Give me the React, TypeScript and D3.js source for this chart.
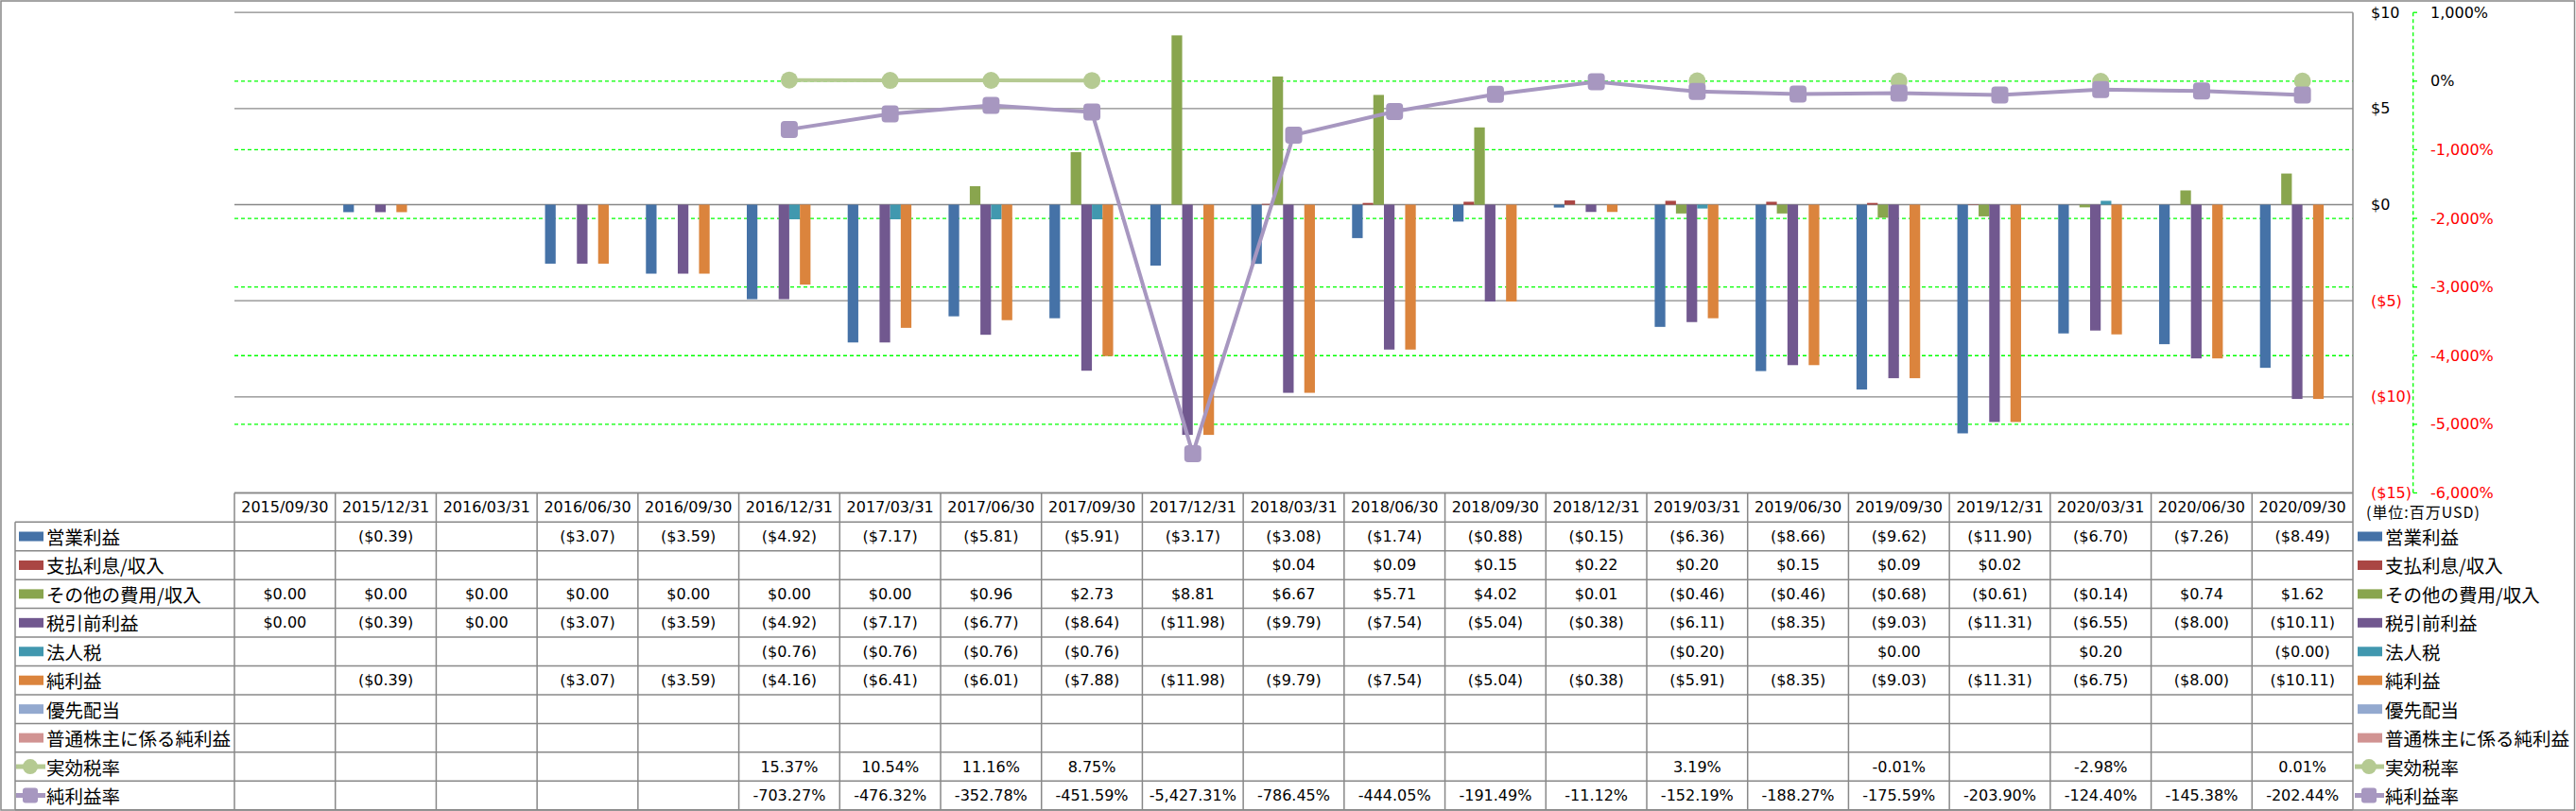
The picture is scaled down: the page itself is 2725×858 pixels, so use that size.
import React from "react";
import * as d3 from "d3";

const categories = [
  "2015/09/30", "2015/12/31", "2016/03/31", "2016/06/30", "2016/09/30", "2016/12/31",
  "2017/03/31", "2017/06/30", "2017/09/30", "2017/12/31", "2018/03/31", "2018/06/30",
  "2018/09/30", "2018/12/31", "2019/03/31", "2019/06/30", "2019/09/30", "2019/12/31",
  "2020/03/31", "2020/06/30", "2020/09/30",
];

const N = null;
const operatingIncome = [N, -0.39, N, -3.07, -3.59, -4.92, -7.17, -5.81, -5.91, -3.17, -3.08, -1.74, -0.88, -0.15, -6.36, -8.66, -9.62, -11.9, -6.7, -7.26, -8.49];
const interestExpense = [N, N, N, N, N, N, N, N, N, N, 0.04, 0.09, 0.15, 0.22, 0.2, 0.15, 0.09, 0.02, N, N, N];
const otherExpense = [0, 0, 0, 0, 0, 0, 0, 0.96, 2.73, 8.81, 6.67, 5.71, 4.02, 0.01, -0.46, -0.46, -0.68, -0.61, -0.14, 0.74, 1.62];
const pretaxIncome = [0, -0.39, 0, -3.07, -3.59, -4.92, -7.17, -6.77, -8.64, -11.98, -9.79, -7.54, -5.04, -0.38, -6.11, -8.35, -9.03, -11.31, -6.55, -8.0, -10.11];
const incomeTax = [N, N, N, N, N, -0.76, -0.76, -0.76, -0.76, N, N, N, N, N, -0.2, N, 0, N, 0.2, N, -0.001];
const netIncome = [N, -0.39, N, -3.07, -3.59, -4.16, -6.41, -6.01, -7.88, -11.98, -9.79, -7.54, -5.04, -0.38, -5.91, -8.35, -9.03, -11.31, -6.75, -8.0, -10.11];
const preferredDividends = categories.map(() => N);
const commonNetIncome = categories.map(() => N);
const effectiveTaxRate = [N, N, N, N, N, 15.37, 10.54, 11.16, 8.75, N, N, N, N, N, 3.19, N, -0.01, N, -2.98, N, 0.01];
const netMargin = [N, N, N, N, N, -703.27, -476.32, -352.78, -451.59, -5427.31, -786.45, -444.05, -191.49, -11.12, -152.19, -188.27, -175.59, -203.9, -124.4, -145.38, -202.44];

const barSeriesNames = ["営業利益", "支払利息/収入", "その他の費用/収入", "税引前利益", "法人税", "純利益", "優先配当", "普通株主に係る純利益"];
const barSeriesValues = [operatingIncome, interestExpense, otherExpense, pretaxIncome, incomeTax, netIncome, preferredDividends, commonNetIncome];
const lineSeriesNames = ["実効税率", "純利益率"];
const lineSeriesValues = [effectiveTaxRate, netMargin];

const dollarTicks = [10, 5, 0, -5, -10, -15];
const pctTicks = [1000, 0, -1000, -2000, -3000, -4000, -5000, -6000];
const unitLabel = "(単位:百万USD)";

const barColors = ["#4572A7", "#AA4643", "#89A54E", "#71588F", "#4198AF", "#DB843D", "#93A9CF", "#D19392"];
const lineColors = ["#B5CA92", "#A797C0"];

const W = 2725;
const H = 858;
const plotLeft = 248;
const plotRight = 2489;
const plotTop = 13.2;
const plotBottom = 521.5;
const headerH = 30.8;
const rowH = 30.44;
const numFont = "'DejaVu Sans', 'Noto Sans CJK JP', sans-serif";
const jpFont = "'Noto Sans CJK JP', 'DejaVu Sans', sans-serif";
const gridGray = "#888888";

const loc = d3.formatLocale({ decimal: ".", thousands: ",", grouping: [3], currency: ["$", ""], minus: "-" });
const f2 = loc.format(",.2f");
const fInt = loc.format(",");

function fmtDollar(v: number | null) {
  if (v === null) return "";
  if (v < 0) return "($" + f2(-v) + ")";
  return "$" + f2(v);
}
function fmtPct(v: number | null) {
  if (v === null) return "";
  return f2(v) + "%";
}

export default function App() {
  const x0 = d3.scaleBand<string>().domain(categories).range([plotLeft, plotRight]).paddingInner(0).paddingOuter(0);
  const x1 = d3
    .scaleBand<string>()
    .domain(barSeriesNames)
    .range([0, x0.bandwidth()])
    .paddingInner(0)
    .paddingOuter(0.75);
  const yD = d3.scaleLinear().domain([-15, 10]).range([plotBottom, plotTop]);
  const yP = d3.scaleLinear().domain([-6000, 1000]).range([plotBottom, plotTop]);
  const cx = (c: string) => (x0(c) as number) + x0.bandwidth() / 2;

  const tableTop = plotBottom;
  const rowsTop = tableTop + headerH;
  const tableBottom = rowsTop + rowH * 10;
  const allNames = [...barSeriesNames, ...lineSeriesNames];

  const lineGen = (vals: (number | null)[]) =>
    d3
      .line<number>()
      .defined((i) => vals[i] !== null)
      .x((i) => cx(categories[i]))
      .y((i) => yP(vals[i] as number))(categories.map((_, i) => i)) || "";

  const legendSymbol = (k: number, x: number, yc: number) => {
    if (k < 8) {
      return <rect x={x} y={yc - 5} width={26} height={10} fill={barColors[k]} />;
    }
    const li = k - 8;
    const col = lineColors[li];
    return (
      <g>
        <line x1={x - 3} x2={x + 28} y1={yc} y2={yc} stroke={col} strokeWidth={5} />
        {li === 0 ? (
          <circle cx={x + 12} cy={yc} r={8} fill={col} />
        ) : (
          <rect x={x + 4} y={yc - 8} width={16} height={16} rx={3} fill={col} />
        )}
      </g>
    );
  };

  return (
    <svg width={W} height={H} style={{ position: "absolute", left: 0, top: 0, background: "#fff" }}>
      <rect x={1} y={1} width={W - 2.5} height={H - 2} fill="#fff" stroke={gridGray} strokeWidth={1.5} />

      {/* gridlines */}
      {pctTicks.filter((t) => t < 1000 && t > -6000).map((t) => (
        <line key={"pg" + t} x1={plotLeft} x2={plotRight} y1={yP(t)} y2={yP(t)} stroke="#00FF00" strokeWidth={1.3} strokeDasharray="4,3" />
      ))}
      {dollarTicks.map((t) => (
        <line key={"dg" + t} x1={plotLeft} x2={plotRight} y1={yD(t)} y2={yD(t)} stroke={gridGray} strokeWidth={1.3} />
      ))}

      {/* bars */}
      {barSeriesValues.map((vals, s) =>
        vals.map((v, i) => {
          if (v === null) return null;
          const y0 = yD(0);
          const y1 = yD(v);
          return (
            <rect
              key={"b" + s + "-" + i}
              x={(x0(categories[i]) as number) + (x1(barSeriesNames[s]) as number)}
              y={Math.min(y0, y1)}
              width={x1.bandwidth()}
              height={Math.abs(y1 - y0)}
              fill={barColors[s]}
            />
          );
        })
      )}

      {/* lines */}
      {lineSeriesValues.map((vals, li) => (
        <g key={"l" + li}>
          <path d={lineGen(vals)} fill="none" stroke={lineColors[li]} strokeWidth={4} />
          {vals.map((v, i) =>
            v === null ? null : li === 0 ? (
              <circle key={i} cx={cx(categories[i])} cy={yP(v)} r={9} fill={lineColors[li]} />
            ) : (
              <rect key={i} x={cx(categories[i]) - 9} y={yP(v) - 9} width={18} height={18} rx={4} fill={lineColors[li]} />
            )
          )}
        </g>
      ))}

      {/* right axes */}
      <line x1={2552.7} x2={2552.7} y1={plotTop} y2={plotBottom} stroke="#00FF00" strokeWidth={1.3} strokeDasharray="4,3" />
      {pctTicks.map((t) => (
        <line key={"pt" + t} x1={2552.7} x2={2557} y1={yP(t)} y2={yP(t)} stroke="#00FF00" strokeWidth={1.3} />
      ))}
      {dollarTicks.map((t) => (
        <text key={"dl" + t} x={2508} y={yD(t)} dominantBaseline="central" fontFamily={numFont} fontSize={16} fill={t < 0 ? "#FF0000" : "#000"}>
          {t < 0 ? "($" + -t + ")" : "$" + t}
        </text>
      ))}
      {pctTicks.map((t) => (
        <text key={"pl" + t} x={2571} y={yP(t)} dominantBaseline="central" fontFamily={numFont} fontSize={16} fill={t < 0 ? "#FF0000" : "#000"}>
          {fInt(t) + "%"}
        </text>
      ))}
      <text x={2503} y={541} dominantBaseline="central" fontFamily={jpFont} fontSize={16} textLength={120} lengthAdjust="spacing" fill="#000">
        {unitLabel}
      </text>

      {/* table */}
      <line x1={plotLeft} x2={plotRight} y1={tableTop} y2={tableTop} stroke={gridGray} strokeWidth={1.5} />
      {d3.range(11).map((k) => (
        <line key={"hr" + k} x1={16} x2={plotRight} y1={rowsTop + k * rowH} y2={rowsTop + k * rowH} stroke={gridGray} strokeWidth={1.5} />
      ))}
      <line x1={16} x2={16} y1={rowsTop} y2={tableBottom} stroke={gridGray} strokeWidth={1.5} />
      {categories.map((c) => (
        <line key={"vc" + c} x1={x0(c) as number} x2={x0(c) as number} y1={tableTop} y2={tableBottom} stroke={gridGray} strokeWidth={1.5} />
      ))}
      <line x1={plotRight} x2={plotRight} y1={plotTop} y2={tableBottom} stroke={gridGray} strokeWidth={1.5} />

      {categories.map((c) => (
        <text key={"hd" + c} x={cx(c)} y={tableTop + headerH / 2} textAnchor="middle" dominantBaseline="central" fontFamily={numFont} fontSize={16}>
          {c}
        </text>
      ))}

      {allNames.map((name, k) => {
        const yc = rowsTop + k * rowH + rowH / 2;
        const vals = k < 8 ? barSeriesValues[k] : lineSeriesValues[k - 8];
        return (
          <g key={"row" + k}>
            {legendSymbol(k, 20, yc)}
            <text x={49} y={yc} dominantBaseline="central" fontFamily={jpFont} fontSize={19.5}>
              {name}
            </text>
            {legendSymbol(k, 2494, yc)}
            <text x={2523} y={yc} dominantBaseline="central" fontFamily={jpFont} fontSize={19.5}>
              {name}
            </text>
            {vals.map((v, i) => (
              <text key={i} x={cx(categories[i])} y={yc} textAnchor="middle" dominantBaseline="central" fontFamily={numFont} fontSize={16}>
                {k < 8 ? fmtDollar(v) : fmtPct(v)}
              </text>
            ))}
          </g>
        );
      })}
    </svg>
  );
}
